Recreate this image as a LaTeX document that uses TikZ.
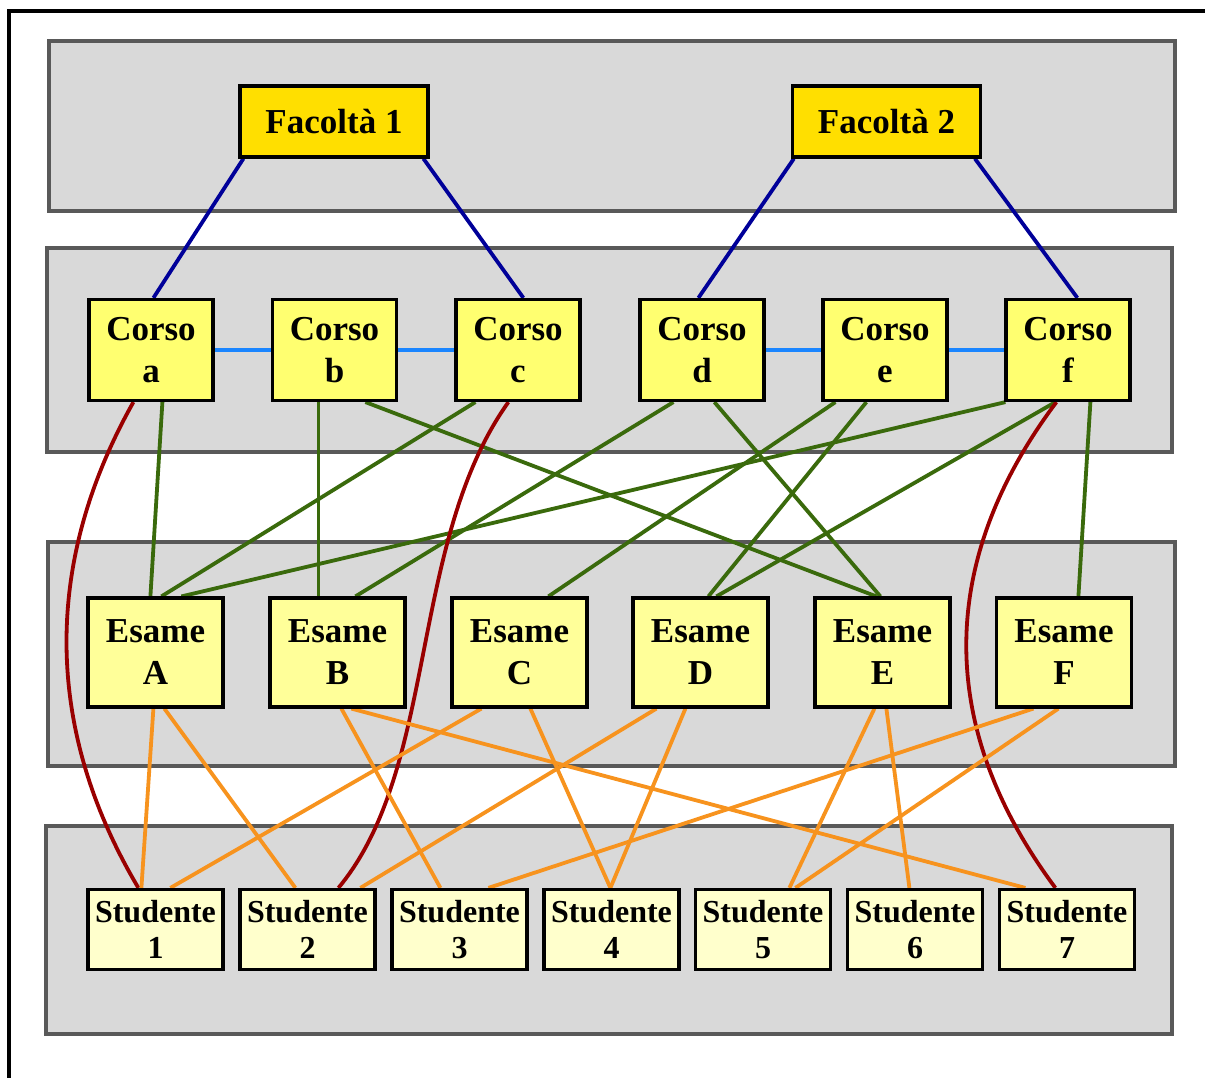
\documentclass[tikz,border=0pt]{standalone}
\usepackage{fontspec}
\setmainfont{Liberation Serif}
\usetikzlibrary{calc}

\definecolor{panelfill}{HTML}{D9D9D9}
\definecolor{panelline}{HTML}{595959}
\definecolor{facfill}{HTML}{FFDF00}
\definecolor{corsofill}{HTML}{FFFF70}
\definecolor{esamefill}{HTML}{FFFF99}
\definecolor{studfill}{HTML}{FFFFCC}
\definecolor{navy}{HTML}{000099}
\definecolor{sky}{HTML}{1A85FF}
\definecolor{leaf}{HTML}{3A6A0C}
\definecolor{wine}{HTML}{990000}
\definecolor{amber}{HTML}{F7931E}

\pgfdeclarelayer{panels}
\pgfdeclarelayer{wires}
\pgfsetlayers{panels,wires,main}

\tikzset{
  panel/.style={draw=panelline, line width=4.5pt, fill=panelfill},
  box/.style={draw=black, line width=3.2pt, inner sep=0pt, align=center,
              font=\bfseries\fontsize{35}{42}\selectfont},
  fac/.style={box, fill=facfill, minimum width=188pt, minimum height=71pt},
  corso/.style={box, fill=corsofill, minimum width=124pt, minimum height=101pt},
  esame/.style={box, fill=esamefill, minimum width=135pt, minimum height=109pt},
  stud/.style={box, fill=studfill, minimum width=135pt, minimum height=80pt,
               font=\bfseries\fontsize{32}{36}\selectfont},
  link/.style={line width=3.8pt},
  facl/.style={link, draw=navy},
  peer/.style={link, draw=sky},
  teach/.style={link, draw=leaf},
  enrol/.style={link, draw=wine},
  takes/.style={link, draw=amber},
}

\begin{document}
\begin{tikzpicture}[x=1pt, y=-1pt]
\useasboundingbox (0,0) rectangle (1205,1077);

\begin{pgfonlayer}{panels}
\fill[white] (0,0) rectangle (1205,1077);
\draw[line width=3.2pt, black] (9,11) rectangle (1230,1100);
% layer panels
\draw[panel] (49,41) rectangle (1175,211);
\draw[panel] (47,248) rectangle (1172,452);
\draw[panel] (48,542) rectangle (1175,766);
\draw[panel] (46,826) rectangle (1172,1034);
\end{pgfonlayer}

% faculties
\node[fac] (f1) at (334,121.5) {Facoltà 1};
\node[fac] (f2) at (886.5,121.5) {Facoltà 2};

% courses
\node[corso] (ca) at (151,350)   {Corso\\a};
\node[corso] (cb) at (334.5,350) {Corso\\b};
\node[corso] (cc) at (518,350)   {Corso\\c};
\node[corso] (cd) at (702,350)   {Corso\\d};
\node[corso] (ce) at (885,350)   {Corso\\e};
\node[corso] (cf) at (1068,350)  {Corso\\f};

% exams
\node[esame] (ea) at (155.5,652.5)  {Esame\\A};
\node[esame] (eb) at (337.5,652.5)  {Esame\\B};
\node[esame] (ec) at (519.5,652.5)  {Esame\\C};
\node[esame] (ed) at (700.5,652.5)  {Esame\\D};
\node[esame] (ee) at (882.5,652.5)  {Esame\\E};
\node[esame] (ef) at (1064,652.5)   {Esame\\F};

% students
\node[stud] (s1) at (155.5,929.5) {Studente\\1};
\node[stud] (s2) at (307.5,929.5) {Studente\\2};
\node[stud] (s3) at (459.5,929.5) {Studente\\3};
\node[stud] (s4) at (611.5,929.5) {Studente\\4};
\node[stud] (s5) at (763,929.5)   {Studente\\5};
\node[stud] (s6) at (915,929.5)   {Studente\\6};
\node[stud] (s7) at (1067,929.5)  {Studente\\7};

\begin{pgfonlayer}{wires}
% faculty -> course
\draw[facl] ([xshift=5pt]f1.south west) -- ([xshift=66pt]ca.north west);
\draw[facl] ([xshift=185pt]f1.south west) -- ([xshift=69pt]cc.north west);
\draw[facl] ([xshift=3pt]f2.south west) -- ([xshift=60pt]cd.north west);
\draw[facl] ([xshift=184pt]f2.south west) -- ([xshift=73pt]cf.north west);

% course <-> course
\draw[peer] (ca.east) -- (cb.west);
\draw[peer] (cb.east) -- (cc.west);
\draw[peer] (cd.east) -- (ce.west);
\draw[peer] (ce.east) -- (cf.west);

% course -> exam
\draw[teach] ([xshift=75pt]ca.south west)   -- ([xshift=64pt]ea.north west);
\draw[teach] ([xshift=47.5pt]cb.south west) -- ([xshift=50pt]eb.north west);
\draw[teach] ([xshift=94.5pt]cb.south west) -- ([xshift=63pt]ee.north west);
\draw[teach] ([xshift=21pt]cc.south west)   -- ([xshift=75pt]ea.north west);
\draw[teach] ([xshift=35pt]cd.south west)   -- ([xshift=87pt]eb.north west);
\draw[teach] ([xshift=76pt]cd.south west)   -- ([xshift=67pt]ee.north west);
\draw[teach] ([xshift=14pt]ce.south west)   -- ([xshift=98pt]ec.north west);
\draw[teach] ([xshift=45pt]ce.south west)   -- ([xshift=77pt]ed.north west);
\draw[teach] ([xshift=1pt]cf.south west)    -- ([xshift=95pt]ea.north west);
\draw[teach] ([xshift=51pt]cf.south west)   -- ([xshift=85pt]ed.north west);
\draw[teach] ([xshift=86pt]cf.south west)   -- ([xshift=83.5pt]ef.north west);

% course -> student
\draw[enrol] ([xshift=46pt]ca.south west) .. controls +(-90,160) and +(-95,-160) .. ([xshift=52pt]s1.north west);
\draw[enrol] ([xshift=54pt]cc.south west) .. controls +(-100,140) and +(100,-120) .. ([xshift=100pt]s2.north west);
\draw[enrol] ([xshift=52pt]cf.south west) .. controls +(-120,160) and +(-119,-160) .. ([xshift=57.5pt]s7.north west);

% exam -> student
\draw[takes] ([xshift=67pt]ea.south west)   -- ([xshift=55pt]s1.north west);
\draw[takes] ([xshift=78pt]ea.south west)   -- ([xshift=57pt]s2.north west);
\draw[takes] ([xshift=73pt]eb.south west)   -- ([xshift=50pt]s3.north west);
\draw[takes] ([xshift=83pt]eb.south west)   -- ([xshift=27.5pt]s7.north west);
\draw[takes] ([xshift=31pt]ec.south west)   -- ([xshift=84pt]s1.north west);
\draw[takes] ([xshift=80pt]ec.south west)   -- ([xshift=68pt]s4.north west);
\draw[takes] ([xshift=25pt]ed.south west)   -- ([xshift=122pt]s2.north west);
\draw[takes] ([xshift=54pt]ed.south west)   -- ([xshift=68pt]s4.north west);
\draw[takes] ([xshift=61pt]ee.south west)   -- ([xshift=95.5pt]s5.north west);
\draw[takes] ([xshift=73pt]ee.south west)   -- ([xshift=63.5pt]s6.north west);
\draw[takes] ([xshift=38.5pt]ef.south west) -- ([xshift=98pt]s3.north west);
\draw[takes] ([xshift=63.5pt]ef.south west) -- ([xshift=101.5pt]s5.north west);
\end{pgfonlayer}
\end{tikzpicture}
\end{document}
